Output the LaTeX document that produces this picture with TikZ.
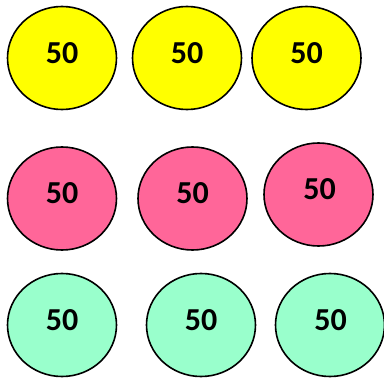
\documentclass[tikz,border=0pt]{standalone}
\usepackage{fontspec}
\setmainfont{Carlito}
\usetikzlibrary{shapes.geometric}
\begin{document}
\begin{tikzpicture}[x=1pt,y=-1pt,
  ell/.style={ellipse,draw=black,line width=1.6pt,minimum width=109pt,minimum height=103pt,inner sep=0pt},
  yel/.style={ell,fill={rgb,255:red,255;green,255;blue,0}},
  pnk/.style={ell,fill={rgb,255:red,255;green,102;blue,153}},
  grn/.style={ell,fill={rgb,255:red,153;green,255;blue,204}},
  num/.style={font=\fontsize{32}{32}\selectfont\bfseries,inner sep=0pt}]
\useasboundingbox (0,0) rectangle (384,378);
\node[yel] (y1) at (62,58) {};
\node[yel] (y2) at (187,58) {};
\node[yel] (y3) at (306.5,58) {};
\node[pnk] (p1) at (62,198.5) {};
\node[pnk] (p2) at (192.5,198.5) {};
\node[pnk] (p3) at (318.5,194.5) {};
\node[grn] (g1) at (62,325) {};
\node[grn] (g2) at (201,325) {};
\node[grn] (g3) at (330,325) {};
\node[num] (ty1) at (62,53) {50};
\node[num] (ty2) at (187,53) {50};
\node[num] (ty3) at (306.5,53) {50};
\node[num] (tp1) at (62,193) {50};
\node[num] (tp2) at (192.5,193.5) {50};
\node[num] (tp3) at (319.5,189.5) {50};
\node[num] (tg1) at (62,320.5) {50};
\node[num] (tg2) at (201,320.5) {50};
\node[num] (tg3) at (330.5,320.5) {50};
\end{tikzpicture}
\end{document}
